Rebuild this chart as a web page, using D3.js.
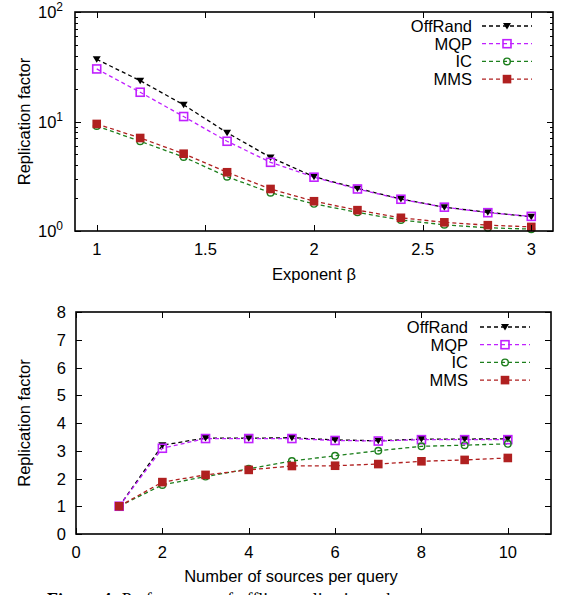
<!DOCTYPE html>
<html>
<head>
<meta charset="utf-8">
<script src="https://cdn.jsdelivr.net/npm/d3@7"></script>
<style>
  body { margin: 0; background: #fff; }
  svg { display: block; font-family: "Liberation Sans", Arial, sans-serif; }
</style>
</head>
<body>
<svg id="chart" width="562" height="595"></svg>
<script>
// top panel: replication factor vs exponent beta (log y)
const betaValues = [1, 1.2, 1.4, 1.6, 1.8, 2, 2.2, 2.4, 2.6, 2.8, 3];
const topOffRand = [37, 23.6, 14.2, 7.9, 4.7, 3.13, 2.45, 1.96, 1.65, 1.48, 1.35];
const topMQP = [30.2, 18.5, 11.1, 6.6, 4.24, 3.1, 2.42, 1.95, 1.65, 1.47, 1.36];
const topIC = [9.1, 6.6, 4.74, 3.13, 2.24, 1.77, 1.48, 1.26, 1.14, 1.07, 1.04];
const topMMS = [9.5, 7.07, 5.08, 3.44, 2.42, 1.87, 1.55, 1.32, 1.2, 1.13, 1.09];
const betaTicks = [1, 1.5, 2, 2.5, 3];

// bottom panel: replication factor vs number of sources per query
const sourceCounts = [1, 2, 3, 4, 5, 6, 7, 8, 9, 10];
const botOffRand = [1.0, 3.2, 3.46, 3.45, 3.47, 3.39, 3.36, 3.42, 3.42, 3.43];
const botMQP = [1.0, 3.09, 3.44, 3.44, 3.44, 3.37, 3.35, 3.4, 3.4, 3.4];
const botIC = [1.0, 1.77, 2.07, 2.35, 2.63, 2.82, 3.0, 3.16, 3.2, 3.25];
const botMMS = [1.0, 1.87, 2.13, 2.31, 2.45, 2.46, 2.52, 2.62, 2.67, 2.74];
const sourceTicks = [0, 2, 4, 6, 8, 10];
const factorTicks = [0, 1, 2, 3, 4, 5, 6, 7, 8];

const seriesNames = ["OffRand", "MQP", "IC", "MMS"];
const seriesColors = ["#000000", "#c020ff", "#1d7f1d", "#b02020"];
const seriesMarks = ["tri", "sqOpen", "circ", "sqFill"];

const svg = d3.select("#chart");
const FS = 16.5;

function drawMarker(g, kind, color, x, y) {
  if (kind === "tri") {
    g.append("path")
      .attr("d", `M${x - 4},${y - 3}L${x + 4},${y - 3}L${x},${y + 3.5}Z`)
      .attr("fill", color);
  } else if (kind === "sqOpen") {
    g.append("rect").attr("x", x - 4).attr("y", y - 4).attr("width", 8).attr("height", 8)
      .attr("fill", "none").attr("stroke", color).attr("stroke-width", 1.6);
  } else if (kind === "circ") {
    g.append("circle").attr("cx", x).attr("cy", y).attr("r", 3.3)
      .attr("fill", "none").attr("stroke", color).attr("stroke-width", 1.4);
  } else {
    g.append("rect").attr("x", x - 4.3).attr("y", y - 4.3).attr("width", 8.6).attr("height", 8.6)
      .attr("fill", color);
  }
}

function drawPanel(opt) {
  const { x, y, box, xs, series, xTicks, yMajor, yMinor, yLabel, legend } = opt;
  const g = svg.append("g");

  // series lines then markers
  series.forEach((vals, i) => {
    const line = d3.line().x((d, j) => x(xs[j])).y(d => y(d));
    g.append("path").datum(vals).attr("d", line)
      .attr("fill", "none").attr("stroke", seriesColors[i])
      .attr("stroke-width", 1.3).attr("stroke-dasharray", "4,3");
  });
  series.forEach((vals, i) => {
    vals.forEach((v, j) => drawMarker(g, seriesMarks[i], seriesColors[i], x(xs[j]), y(v)));
  });

  // ticks (inward, mirrored)
  const tg = g.append("g").attr("stroke", "#000").attr("stroke-width", 1);
  xTicks.forEach(t => {
    const px = Math.round(x(t)) + 0.5;
    tg.append("line").attr("x1", px).attr("x2", px).attr("y1", box.b).attr("y2", box.b - 6);
    tg.append("line").attr("x1", px).attr("x2", px).attr("y1", box.t).attr("y2", box.t + 6);
  });
  yMajor.forEach(t => {
    const py = Math.round(y(t)) + 0.5;
    tg.append("line").attr("x1", box.l).attr("x2", box.l + 6).attr("y1", py).attr("y2", py);
    tg.append("line").attr("x1", box.r).attr("x2", box.r - 6).attr("y1", py).attr("y2", py);
  });
  yMinor.forEach(t => {
    const py = Math.round(y(t)) + 0.5;
    tg.append("line").attr("x1", box.l).attr("x2", box.l + 3).attr("y1", py).attr("y2", py);
    tg.append("line").attr("x1", box.r).attr("x2", box.r - 3).attr("y1", py).attr("y2", py);
  });

  // frame
  g.append("rect").attr("x", box.l).attr("y", box.t)
    .attr("width", box.r - box.l).attr("height", box.b - box.t)
    .attr("fill", "none").attr("stroke", "#000").attr("stroke-width", 1.6);

  // tick labels
  xTicks.forEach(t => {
    g.append("text").attr("x", x(t)).attr("y", box.b + 24)
      .attr("text-anchor", "middle").attr("font-size", FS).text(t);
  });
  opt.yLabels(g);

  // y title
  g.append("text")
    .attr("transform", `translate(30,${(box.t + box.b) / 2}) rotate(-90)`)
    .attr("text-anchor", "middle").attr("font-size", FS).text(yLabel);

  // x title
  g.append("text").attr("x", opt.xTitleX).attr("y", opt.xTitleY)
    .attr("text-anchor", "middle").attr("font-size", FS).text(opt.xTitle);

  // legend
  seriesNames.forEach((name, i) => {
    const ly = legend.y + i * 17.7;
    g.append("text").attr("x", legend.tx).attr("y", ly + 6)
      .attr("text-anchor", "end").attr("font-size", FS).text(name);
    g.append("line").attr("x1", legend.lx1).attr("x2", legend.lx2)
      .attr("y1", ly).attr("y2", ly)
      .attr("stroke", seriesColors[i]).attr("stroke-width", 1.3).attr("stroke-dasharray", "4,3");
    drawMarker(g, seriesMarks[i], seriesColors[i], (legend.lx1 + legend.lx2) / 2, ly);
  });
}

// top panel
{
  const box = { l: 75, r: 553, t: 12, b: 231 };
  const x = d3.scaleLinear().domain([0.9, 3.1]).range([box.l, box.r]);
  const y = d3.scaleLog().domain([1, 100]).range([box.b, box.t]);
  const minor = [];
  [1, 10].forEach(d => { for (let k = 2; k <= 9; k++) minor.push(d * k); });
  drawPanel({
    x, y, box, xs: betaValues,
    series: [topOffRand, topMQP, topIC, topMMS],
    xTicks: betaTicks, yMajor: [1, 10, 100], yMinor: minor,
    yLabel: "Replication factor",
    xTitle: "Exponent β", xTitleX: 314, xTitleY: 280,
    legend: { y: 26, tx: 472, lx1: 482, lx2: 532 },
    yLabels: g => {
      [0, 1, 2].forEach(e => {
        const t = g.append("text").attr("x", 63).attr("y", y(Math.pow(10, e)) + 6)
          .attr("text-anchor", "end").attr("font-size", FS);
        t.append("tspan").text("10");
        t.append("tspan").attr("dy", -7).attr("font-size", 12).text(e);
      });
    }
  });
}

// bottom panel
{
  const box = { l: 76, r: 551, t: 312, b: 534 };
  const x = d3.scaleLinear().domain([0, 11]).range([box.l, box.r]);
  const y = d3.scaleLinear().domain([0, 8]).range([box.b, box.t]);
  drawPanel({
    x, y, box, xs: sourceCounts,
    series: [botOffRand, botMQP, botIC, botMMS],
    xTicks: sourceTicks, yMajor: factorTicks, yMinor: [],
    yLabel: "Replication factor",
    xTitle: "Number of sources per query", xTitleX: 291, xTitleY: 582,
    legend: { y: 327, tx: 468, lx1: 480, lx2: 530 },
    yLabels: g => {
      factorTicks.forEach(t => {
        g.append("text").attr("x", 66).attr("y", y(t) + 6)
          .attr("text-anchor", "end").attr("font-size", FS).text(t);
      });
    }
  });
}

// caption, cut off by the bottom edge as in the source figure
const cap = svg.append("text").attr("x", 47).attr("y", 606)
  .attr("font-family", "'Liberation Serif', 'Times New Roman', serif").attr("font-size", 18);
cap.append("tspan").attr("font-weight", "bold").text("Figure 4: ");
cap.append("tspan").text("Performance of offline replication schemes");
</script>
</body>
</html>
